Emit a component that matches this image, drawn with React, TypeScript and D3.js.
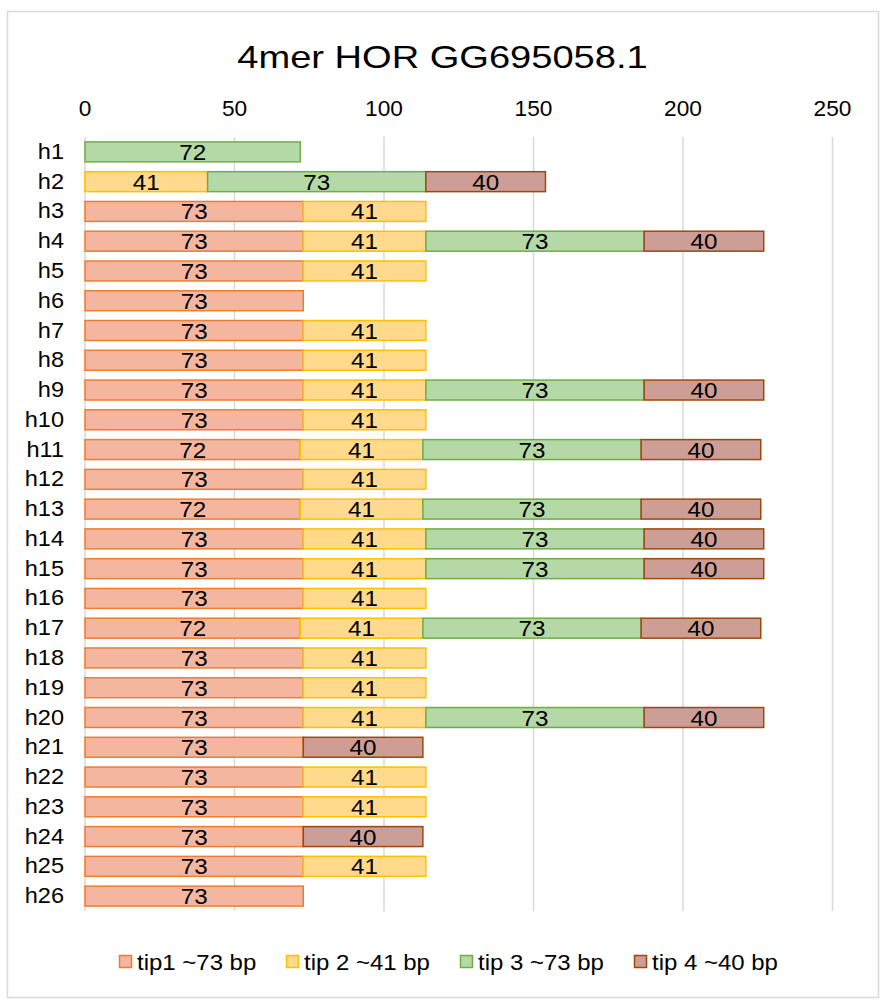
import React from "react";
import * as d3 from "d3";

const categories = ["h1","h2","h3","h4","h5","h6","h7","h8","h9","h10","h11","h12","h13","h14","h15","h16","h17","h18","h19","h20","h21","h22","h23","h24","h25","h26"];
const tip1 = [0,0,73,73,73,73,73,73,73,73,72,73,72,73,73,73,72,73,73,73,73,73,73,73,73,73];
const tip2 = [0,41,41,41,41,0,41,41,41,41,41,41,41,41,41,41,41,41,41,41,0,41,41,0,41,0];
const tip3 = [72,73,0,73,0,0,0,0,73,0,73,0,73,73,73,0,73,0,0,73,0,0,0,0,0,0];
const tip4 = [0,40,0,40,0,0,0,0,40,0,40,0,40,40,40,0,40,0,0,40,40,0,0,40,0,0];
const seriesNames = ["tip1 ~73 bp","tip 2 ~41 bp","tip 3 ~73 bp","tip 4 ~40 bp"];
const fills = ["#F5B6A0","#FFD98C","#B4D8A6","#CC9E96"];
const strokes = ["#ED7D31","#FFC000","#70AD47","#9E480E"];
const xTicks = [0,50,100,150,200,250];

const W = 881, H = 1001;
const FONT = "Arial, 'Liberation Sans', sans-serif";

function T({ x, y, size, sx = 1, anchor = "start", children }: any) {
  return (
    <text transform={`translate(${x},${y}) scale(${sx},1)`} textAnchor={anchor} fontSize={size} fill="#000">
      {children}
    </text>
  );
}

export default function App() {
  const rows = categories.map((c, i) => ({ cat: c, s0: tip1[i], s1: tip2[i], s2: tip3[i], s3: tip4[i] }));
  const keys = ["s0","s1","s2","s3"];
  const stack = d3.stack<any>().keys(keys)(rows);
  const x = d3.scaleLinear().domain([0, 250]).range([85, 832.5]);
  const y = d3.scaleBand().domain(categories).range([137, 911]).paddingInner(0.33).paddingOuter(0.165);
  const bh = y.bandwidth();

  const legendX = [119, 286, 460, 634];

  return (
    <svg width={W} height={H} style={{ position: "absolute", left: 0, top: 0 }} fontFamily={FONT}>
      <rect x={7.5} y={11.5} width={871} height={986} fill="#fff" stroke="#D9D9D9" strokeWidth={1.5} />
      <T x={442.5} y={68} size={32} sx={1.19} anchor="middle">4mer HOR GG695058.1</T>
      {xTicks.map(t => (
        <g key={t}>
          <line x1={x(t)} x2={x(t)} y1={137} y2={911} stroke="#D9D9D9" strokeWidth={1.5} />
          <T x={x(t)} y={116} size={22} sx={1.03} anchor="middle">{t}</T>
        </g>
      ))}
      {categories.map(c => (
        <T key={c} x={64} y={(y(c) as number) + bh / 2 + 7} size={22} sx={1.07} anchor="end">{c}</T>
      ))}
      {stack.map((layer, si) => (
        <g key={si}>
          {layer.map((d, i) => {
            const v = d[1] - d[0];
            if (v <= 0) return null;
            const yy = y(categories[i]) as number;
            const x0 = x(d[0]), x1 = x(d[1]);
            return (
              <g key={i}>
                <rect x={x0} y={yy} width={x1 - x0} height={bh} fill={fills[si]} stroke={strokes[si]} strokeWidth={1.5} />
                <T x={(x0 + x1) / 2} y={yy + bh / 2 + 8} size={22} sx={1.1} anchor="middle">{v}</T>
              </g>
            );
          })}
        </g>
      ))}
      {seriesNames.map((n, i) => (
        <g key={n}>
          <rect x={legendX[i] + 0.5} y={955.5} width={12} height={12} fill={fills[i]} stroke={strokes[i]} strokeWidth={1.5} />
          <T x={legendX[i] + 18} y={970} size={22} sx={1.09}>{n}</T>
        </g>
      ))}
    </svg>
  );
}
